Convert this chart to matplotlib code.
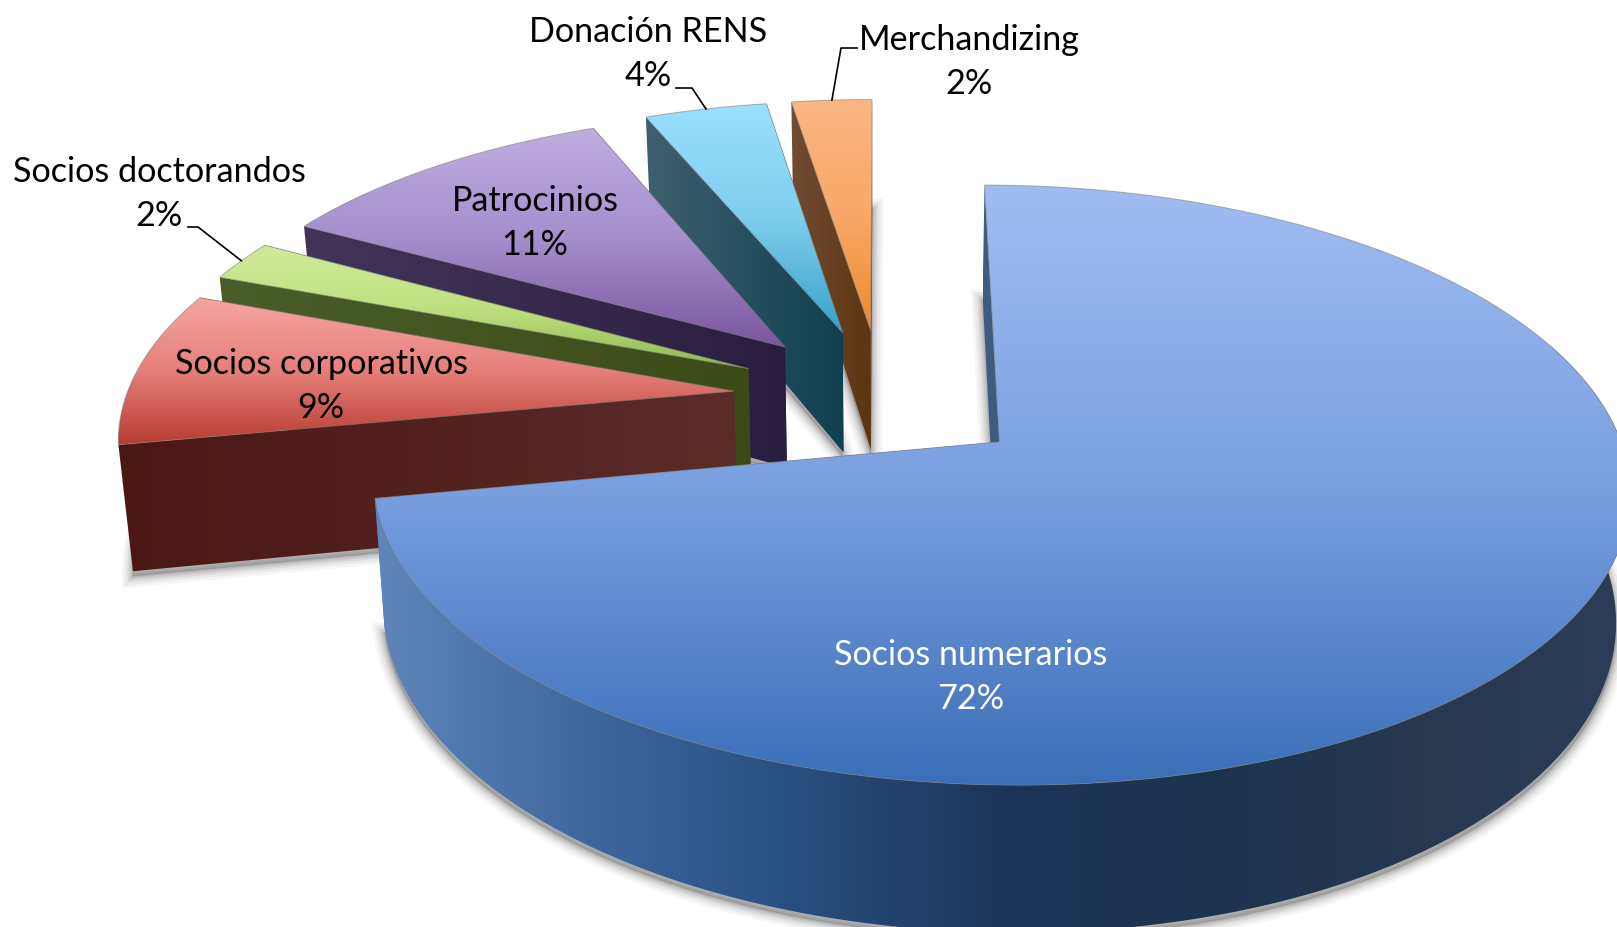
import numpy as np
import matplotlib
matplotlib.use("Agg")
import matplotlib.pyplot as plt
from matplotlib.path import Path
from matplotlib.patches import PathPatch
from matplotlib.colors import LinearSegmentedColormap

# Datos (sin redondear, se estiman del ángulo de cada porción)
categorias = ['Socios numerarios', 'Socios corporativos', 'Socios doctorandos',
              'Patrocinios', 'Donación RENS', 'Merchandizing']
valores = [72.0, 8.7, 2.3, 10.7, 3.8, 2.49]

# Colores de cada porción: cara superior (arriba -> abajo) y pared (izq -> der)
colores_top = [['#a0bdf3', '#7ba0e0', '#3a6fb8'],
               ['#f7a6a2', '#e57f7a', '#b73c32'],
               ['#d2eb9c', '#c0e080', '#90b84e'],
               ['#bfaee0', '#a48fcc', '#7a569f'],
               ['#9be0ff', '#80cdee', '#35a3c8'],
               ['#fab684', '#f9a868', '#ee8a2c']]
colores_pared = [['#3e5c80', '#3e5c80'],
                 ['#4b1713', '#5a2c2a'],
                 ['#4a5e2a', '#3c4a18'],
                 ['#43355a', '#2a1e40'],
                 ['#3f5f70', '#0f3f50'],
                 ['#704c34', '#5c3510']]
colores_borde = ['#5f85ba', '#3f679e', '#284e80', '#1c3558', '#1c3350', '#27384f', '#2b3d58']

# Geometría de la perspectiva
CX, CY = 882, 397
RX, RY = 608, 281
K = 0.141
EXPLOTA = 0.245
ALTO = 126
CONVERGE = 0.981


def proyectar(u, v, abajo=False):
    w = 1 + K * v
    x = CX + RX * u / w
    y = CY - RY * v / w
    if abajo:
        x = CX + (x - CX) * CONVERGE
        y = y + ALTO * 0.98 / w
    return np.column_stack([x, y])


def direccion(grados):
    t = np.radians(grados)
    return np.sin(t), np.cos(t)


def relleno(ax, pts, colores, vertical, z, borde=None):
    path = Path(np.vstack([pts, pts[0]]), closed=True)
    x0, y0 = pts.min(axis=0)
    x1, y1 = pts.max(axis=0)
    grad = np.linspace(0, 1, 256)
    grad = grad[:, None] if vertical else grad[None, :]
    cmap = LinearSegmentedColormap.from_list('g', colores)
    im = ax.imshow(grad, extent=(x0, x1, y1, y0), cmap=cmap, aspect='auto',
                   interpolation='bilinear', zorder=z)
    parche = PathPatch(path, transform=ax.transData, fc='none', ec='none')
    ax.add_patch(parche)
    im.set_clip_path(parche)
    if borde:
        ax.add_patch(PathPatch(path, fc='none', ec=borde, lw=0.7, alpha=0.6, zorder=z + 0.1))


fig = plt.figure(figsize=(16.17, 9.27), dpi=100)
ax = fig.add_axes([0, 0, 1, 1])

angulos = np.concatenate([[0], np.cumsum(valores) / sum(valores) * 360])
rim_medio = {}

# de atrás hacia adelante: merchandizing ... socios corporativos, y al final numerarios
orden = [5, 4, 3, 2, 1, 0]
for n, i in enumerate(orden):
    a, b = angulos[i], angulos[i + 1]
    du, dv = direccion((a + b) / 2)
    ou, ov = du * EXPLOTA, dv * EXPLOTA
    grados = np.linspace(a, b, 160)
    su, cu = direccion(grados)
    u, v = ou + su, ov + cu
    z = 10 + n * 2

    top = np.vstack([proyectar(np.array([ou]), np.array([ov])), proyectar(u, v)])
    base = np.vstack([proyectar(np.array([ou]), np.array([ov]), True), proyectar(u, v, True)])

    # sombra difusa bajo la base
    sombra = Path(np.vstack([base, base[0]]) + [0, 5], closed=True)
    for lw, al in zip([16, 12, 8, 5, 2], [0.06, 0.09, 0.12, 0.16, 0.22]):
        ax.add_patch(PathPatch(sombra, fc='#8a8a8a', ec='#707070', lw=lw, alpha=al, zorder=2))

    # paredes de los cortes
    pared_b = np.array([top[0], top[-1], base[-1], base[0]])
    pared_a = np.array([top[0], top[1], base[1], base[0]])
    relleno(ax, pared_b, colores_pared[i], False, z)
    relleno(ax, pared_a, colores_pared[i], False, z + 0.2)

    # pared exterior, solo la porción grande se ve de frente
    if i == 0:
        vis = grados > 70
        frente = np.vstack([proyectar(u[vis], v[vis]), proyectar(u[vis], v[vis], True)[::-1]])
        relleno(ax, frente, colores_borde, False, z + 0.4)

    relleno(ax, top, colores_top[i], True, z + 1, borde='#7f7f7f')
    rim_medio[i] = proyectar(u[80:81], v[80:81])[0]

# Etiquetas
pos_etiquetas = [(971, 677), (321, 386), (159, 194), (535, 223), (648, 54), (969, 62)]
color_txt = ['white', 'black', 'black', 'black', 'black', 'black']
for cat, val, (x, y), c in zip(categorias, valores, pos_etiquetas, color_txt):
    ax.text(x, y, f'{cat}\n{round(val)}%', ha='center', va='center', color=c, zorder=40,
            family='Lato', fontsize=24.6, linespacing=1.47)

# Líneas guía: del texto al borde de la porción
guias = {2: [(188, 227), (198, 227)], 4: [(676, 88), (692, 88)], 5: [(857, 48), (841, 48)]}
for i, tramo in guias.items():
    xs = [p[0] for p in tramo] + [rim_medio[i][0]]
    ys = [p[1] for p in tramo] + [rim_medio[i][1]]
    ax.plot(xs, ys, color='black', lw=1.2, zorder=41)

ax.set_xlim(0, 1617)
ax.set_ylim(927, 0)
ax.axis('off')

fig.savefig('out.png', dpi=100, facecolor='white')
